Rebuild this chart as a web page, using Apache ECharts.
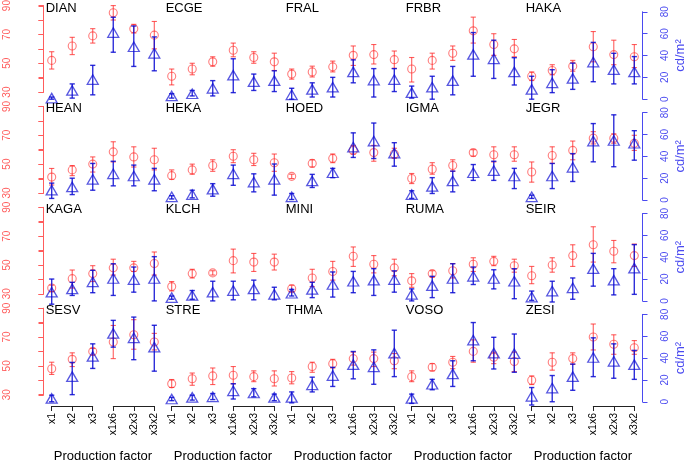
<!DOCTYPE html>
<html><head><meta charset="utf-8">
<script src="https://cdn.jsdelivr.net/npm/echarts@6/dist/echarts.min.js"></script>
<style>html,body{margin:0;padding:0;background:#fff}#c{width:685px;height:460px}</style>
</head><body><div id="c"></div>
<script>
// ---------------- data ----------------
const stations = ['DIAN','ECGE','FRAL','FRBR','HAKA','HEAN','HEKA','HOED','IGMA','JEGR',
                  'KAGA','KLCH','MINI','RUMA','SEIR','SESV','STRE','THMA','VOSO','ZESI'];
const factors = ['x1','x2','x3','x1x6','x2x3','x3x2'];
const dBTicks = [30, 40, 50, 60, 70, 80, 90];
const dBTickLabels = [30, 50, 70, 90];
const cdTickLabels = [0, 20, 40, 60, 80];
const xLabel = 'Production factor';

// sound level (dB): mean, lower and upper end of error bar
const dBMean = [
  [52,62,69,85,74,69.5],[41,46,51,59,54,51],[42.5,44,47.5,55.5,56,52.5],[46,52,57,72.5,63,60],[41,45,48,61.5,56,54.5],
  [41,46,50,58.5,55,53],[42,46,49,55.5,53,51],[41.5,50.5,54,59.5,58,57],[40,46.5,49,58,56.5,56.5],[44.5,56,59.5,68,68,64.5],
  [34,40.5,44,48,48,51],[35,44,44.5,53,52,52],[33.5,41,45.5,56,50.5,48],[39,44,46,50.5,52.5,49.5],[42.5,50,56.5,64,59.5,56.5],
  [48,54.5,60,66.5,71.5,66.5],[37.5,41,43,43.5,42.5,41],[41.5,49.5,51.5,55,55,53.5],[42.5,49,52.5,60,56,53],[40,52.5,55,70,65,62.5]
];
const dBLow = [
  [46,56,64,80,71,60],[35,42,48,54.5,50,45],[39,40.5,44,48.5,49.5,46.5],[37,46,52,64,55.5,54.5],[38,42,44.5,51,49,47],
  [35.5,42,44.5,51.5,48,46],[39.5,43,45,51,49,45],[40,48,51,57,52,54],[36.5,43,45,55.5,51.5,52],[37.5,50.5,53,64,64.5,59.5],
  [31.5,34,38.5,43,45.5,43],[32,41,43,44.5,45.5,46.5],[31.5,35,39.5,49,44.5,42.5],[34.5,41.5,41,45.5,49.5,45],[37,45,49,52,51.5,49],
  [44,49.5,57.5,55,61.5,61],[35,36.5,37,37.5,39,36],[37.5,45.5,48.5,50.5,49.5,48],[39,46.5,48,52.5,51.5,46],[37,47,51,61,58,58]
];
const dBHigh = [
  [58,68,74,90,77,79],[46,50,54.5,64,58,57],[46,48,51.5,62,63,58.5],[54,57,62,82,70.5,66.5],[44,49,52,72,66,63],
  [47,49,55,65.5,62,61],[46,50,53,60,57.5,57],[43,53,57,63,63,61],[43.5,51,53,60,62,62],[51.5,62,66,72.5,71,70],
  [36,46.5,49.5,54,52.5,59],[38.5,47,46,61,58,57.5],[36,47,52.5,62.5,56.5,54],[44,46,51,55,56,54],[49,55,64,76.5,67,64.5],
  [52.5,59,62,78,82,72.5],[40.5,45,48.5,49.5,46.5,46.5],[46,52.5,54.5,59.5,59.5,58.5],[46.5,51.5,56.5,68,59.5,59.5],[43,59,59,79,71.5,67.5]
];
// luminance (cd/m²): mean, lower and upper end of error bar
const cdMean = [
  [1,8,18,61,48,42],[3,5,10,22,16,17],[4,9,11,25,17.5,18],[6,11,17,41,37,25],[9,15,19,34,27,25],
  [9,12,19,24,22,19],[3,5,10,24,16.5,19],[3,17.5,25,48.5,54,43],[5,12.5,17.5,25,27,22],[3,22,30,54,54.5,52],
  [8,11,17.5,20.5,19.5,20.5],[3,5,8,9.5,11,6],[7,10.5,15,18,19,19.5],[6,14,20.5,22.5,20.5,18],[3.5,9,12,29.5,19,30],
  [3,23,41.5,62.5,58.5,50],[2.5,4,4.5,10,8,4],[4,15.5,24,34,32,44.5],[3,16,25.5,56.5,44.5,44],[5,12.5,23,40.5,37,34]
];
const cdLow = [
  [0,1,4,43,30,26],[1,3,3,6,8,7],[0,2,2,15,2,7],[1,0,4,21,19,13],[0,6,9,16,14,14],
  [1.5,5,9,13,13,8.5],[1,2,3.5,13.5,7.5,4.5],[0.5,11.5,20.5,39,38,31],[1.5,6,7.5,18,18,10.5],[1.5,10.5,17,35,30.5,36.5],
  [-3,5,7.5,5,8,0],[1.5,1.5,0,1,1,1],[4.5,3,3.5,7.5,5,8],[0,3,7.5,15,11,2],[0.5,-1,1.5,13.5,5.5,6],
  [0,6.5,30.5,50,38.5,28],[1,1.5,2,2.5,4.5,1],[-1,9,14,21,16,23],[-1.5,11,14,37.5,30,27],[-3,0,10.5,23,21.5,20.5]
];
const cdHigh = [
  [2,14,31,75,67,57],[5,8,17,37,23,26],[10,15,20,36,28,28],[12,21,30,61,54,38],[21,27,33,52,42,39],
  [15.5,20,33.5,35.5,32,29],[4,9,15,32,24,33],[6,23.5,29,61.5,70.5,52.5],[8.5,20.5,26.5,32.5,35.5,29],[4.5,33.5,42.5,70,78,63.5],
  [20,17,28,34,31,40.5],[4.5,9.5,18,18,19,12.5],[10.5,17,26.5,27,29.5,27.5],[11,22.5,34,31,28.5,29.5],[9,18,21,43.5,29.5,51.5],
  [6,36,53,74.5,77.5,70],[4,6,7.5,16.5,12,7],[9,22.5,31.5,46,47.5,65.5],[7,20.5,37.5,72.5,59,62],[13,24,34.5,58.5,53,47]
];

// ---------------- layout & style ----------------
const FONT = '"Liberation Sans", Arial, Helvetica, sans-serif';
const RED = 'rgba(255,40,40,0.75)';
const BLUE = 'rgba(10,10,210,0.85)';
const RED_AX = '#FF5C5C';
const BLUE_AX = '#4A4AF0';
const X0 = 51.7, COLW = 120, PW = 102.6;
const ROW = 100.85;
const DB_TOP = 5.6, DB_H = 86.5;
const CD_TOP = 11.8, CD_H = 87.4;
const LEFT_AX_X = 43.5, RIGHT_AX_X = 642.5;
const BRACKET_Y = 406;

const grid = [], xAxis = [], yAxis = [], series = [], title = [];
const G = { containLabel: false, outerBoundsMode: 'none' };

function errBar(color, lw) {
  return function (params, api) {
    const i = api.value(0);
    const lo = api.coord([i, api.value(1)]);
    const hi = api.coord([i, api.value(2)]);
    const w = 2.6;
    const st = { stroke: color, lineWidth: lw };
    return { type: 'group', children: [
      { type: 'line', shape: { x1: hi[0], y1: hi[1], x2: lo[0], y2: lo[1] }, style: st },
      { type: 'line', shape: { x1: hi[0] - w, y1: hi[1], x2: hi[0] + w, y2: hi[1] }, style: st },
      { type: 'line', shape: { x1: lo[0] - w, y1: lo[1], x2: lo[0] + w, y2: lo[1] }, style: st }
    ]};
  };
}

function addGrid(g) { grid.push(Object.assign(g, G)); return grid.length - 1; }

// side axes: one thin axis-only grid per row and side
for (let row = 0; row < 4; row++) {
  const gl = addGrid({ left: LEFT_AX_X, width: 2, top: DB_TOP + ROW * row, height: DB_H });
  xAxis.push({ type: 'value', gridIndex: gl, show: false, min: 0, max: 1 });
  yAxis.push({
    type: 'value', gridIndex: gl, min: 30, max: 90, interval: 10, position: 'left',
    axisLine: { show: true, onZero: false, lineStyle: { color: RED_AX, width: 1 } },
    axisTick: { show: true, length: 5, lineStyle: { color: RED_AX, width: 1 } },
    splitLine: { show: false },
    axisLabel: { show: true, rotate: 90, margin: 31, fontSize: 10, color: RED_AX, fontFamily: FONT,
      formatter: v => dBTickLabels.includes(v) ? String(v) : '' },
    name: 'dB', nameLocation: 'middle', nameGap: 30,
    nameTextStyle: { color: RED_AX, fontSize: 13, fontFamily: FONT }
  });
  // axis line and ticks of the dB axis, drawn through the same scale
  series.push({ type: 'custom', xAxisIndex: gl, yAxisIndex: gl, clip: false, silent: true, z: 20,
    encode: { x: 0, y: 1 },
    data: dBTicks.map(v => [0, v]),
    renderItem: function (params, api) {
      const pt = api.coord([0, api.value(1)]);
      const x = Math.round(pt[0]) - 0.5, y = Math.round(pt[1]) + 0.5;
      const st = { stroke: RED_AX, lineWidth: 1 };
      const ch = [{ type: 'line', shape: { x1: x - 5, y1: y, x2: x, y2: y }, style: st }];
      if (params.dataIndex === 0) {
        const top = api.coord([0, dBTicks[dBTicks.length - 1]]);
        ch.push({ type: 'line', shape: { x1: x, y1: y, x2: x, y2: Math.round(top[1]) + 0.5 }, style: st });
      }
      return { type: 'group', children: ch };
    } });

  const gr = addGrid({ left: RIGHT_AX_X - 2, width: 2, top: CD_TOP + ROW * row, height: CD_H });
  xAxis.push({ type: 'value', gridIndex: gr, show: false, min: 0, max: 1 });
  yAxis.push({
    type: 'value', gridIndex: gr, min: 0, max: 80, interval: 20, position: 'right',
    axisLine: { show: true, onZero: false, lineStyle: { color: BLUE_AX, width: 1 } },
    axisTick: { show: true, length: 5, lineStyle: { color: BLUE_AX, width: 1 } },
    splitLine: { show: false },
    axisLabel: { show: true, rotate: 90, margin: 17.5, fontSize: 10, color: BLUE_AX, fontFamily: FONT,
      formatter: v => cdTickLabels.includes(v) ? String(v) : '' },
    name: 'cd/m²', nameLocation: 'middle', nameGap: 31,
    nameTextStyle: { color: BLUE_AX, fontSize: 13, fontFamily: FONT }
  });
}

stations.forEach((name, p) => {
  const col = p % 5, row = Math.floor(p / 5);
  const left = X0 + COLW * col;

  const gDB = addGrid({ left: left, width: PW, top: DB_TOP + ROW * row, height: DB_H });
  xAxis.push({ type: 'category', gridIndex: gDB, data: factors, boundaryGap: false, show: false });
  yAxis.push({ type: 'value', gridIndex: gDB, min: 30, max: 90, show: false });

  const gCD = addGrid({ left: left, width: PW, top: CD_TOP + ROW * row, height: CD_H });
  xAxis.push({ type: 'category', gridIndex: gCD, data: factors, boundaryGap: false, show: false });
  yAxis.push({ type: 'value', gridIndex: gCD, min: 0, max: 80, show: false });

  series.push({ type: 'custom', xAxisIndex: gDB, yAxisIndex: gDB, clip: false, silent: true, z: 2,
    encode: { x: 0, y: [1, 2] },
    data: factors.map((f, i) => [i, dBLow[p][i], dBHigh[p][i]]), renderItem: errBar(RED, 1.1) });
  series.push({ type: 'scatter', xAxisIndex: gDB, yAxisIndex: gDB, clip: false, silent: true, z: 3,
    data: factors.map((f, i) => [i, dBMean[p][i]]), symbol: 'circle', symbolSize: 8,
    itemStyle: { color: 'rgba(0,0,0,0)', borderColor: RED, borderWidth: 1.1 } });
  series.push({ type: 'custom', xAxisIndex: gCD, yAxisIndex: gCD, clip: false, silent: true, z: 4,
    encode: { x: 0, y: [1, 2] },
    data: factors.map((f, i) => [i, cdLow[p][i], cdHigh[p][i]]), renderItem: errBar(BLUE, 1.4) });
  series.push({ type: 'scatter', xAxisIndex: gCD, yAxisIndex: gCD, clip: false, silent: true, z: 5,
    data: factors.map((f, i) => [i, cdMean[p][i]]), symbol: 'triangle', symbolSize: [11, 9.5],
    itemStyle: { color: 'rgba(0,0,0,0)', borderColor: BLUE, borderWidth: 1.3 } });

  title.push({ text: name, left: left - 6, top: 1.5 + ROW * row, padding: 0,
    textStyle: { fontSize: 13, fontWeight: 'normal', color: '#000', fontFamily: FONT } });

  if (row === 3) {
    [factors.slice(0, 3), factors.slice(3)].forEach((cats, k) => {
      const g = addGrid({ left: left + k * 61.6, width: 41, top: BRACKET_Y - 10, height: 10 });
      xAxis.push({ type: 'category', gridIndex: g, data: cats, boundaryGap: false, position: 'bottom',
        axisLine: { show: true, onZero: false, lineStyle: { color: '#222', width: 1 } },
        axisTick: { show: true, length: 5, interval: 0, lineStyle: { color: '#222' } },
        axisLabel: { show: true, interval: 0, rotate: 90, margin: 7, fontSize: 10.5, color: '#000', fontFamily: FONT },
        splitLine: { show: false } });
      yAxis.push({ type: 'value', gridIndex: g, show: false, splitLine: { show: false } });
    });
    title.push({ text: xLabel, left: left + PW / 2, top: 450, padding: 0, textAlign: 'center',
      textStyle: { fontSize: 13, fontWeight: 'normal', color: '#000', fontFamily: FONT } });
  }
});

const chart = echarts.init(document.getElementById('c'), null, { renderer: 'canvas' });
chart.setOption({ animation: false, backgroundColor: '#fff', title, grid, xAxis, yAxis, series });
</script>
</body></html>
